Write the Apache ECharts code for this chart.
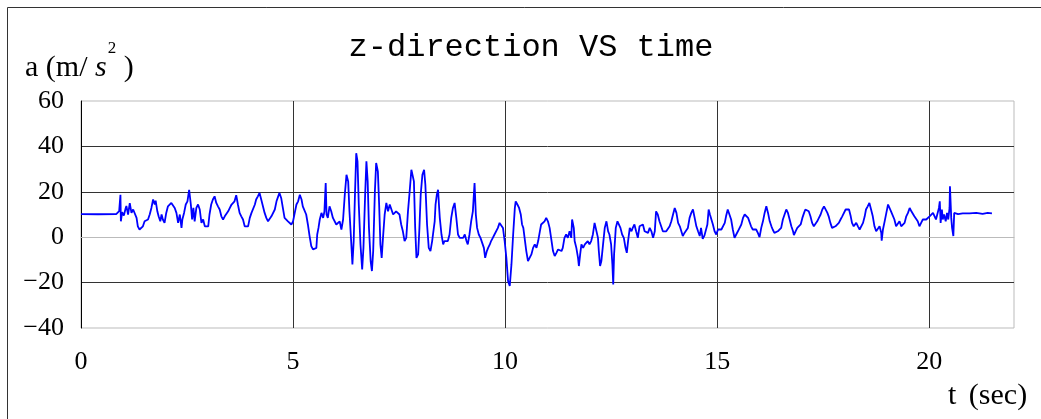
<!DOCTYPE html>
<html>
<head>
<meta charset="utf-8">
<style>
  html, body { margin: 0; padding: 0; background: #fff; }
  #chart { width: 1041px; height: 419px; }
</style>
<script src="https://cdn.jsdelivr.net/npm/echarts@6/dist/echarts.min.js"></script>
</head>
<body>
<div id="chart"></div>
<script>
// Vertical (z) acceleration record, [time s, acceleration m/s^2]
const segQuietStart = [
  [0, 10.2], [0.40, 10.1], [0.83, 10.2], [0.86, 9.5], [0.90, 11.5], [0.93, 18.7], [0.94, 7.0],
  [0.97, 11.0], [1.01, 9.5], [1.05, 12.5], [1.07, 13.8], [1.11, 10.0], [1.15, 15.0], [1.19, 10.7],
  [1.23, 12.2], [1.27, 12.2], [1.31, 8.5], [1.34, 4.8], [1.38, 3.4], [1.42, 2.6], [1.46, 4.8],
  [1.50, 7.0], [1.54, 7.3], [1.58, 7.8], [1.62, 10.0], [1.66, 12.9], [1.70, 16.6], [1.74, 14.4],
  [1.76, 16.1], [1.80, 11.4], [1.83, 9.2], [1.87, 7.0], [1.90, 10.0], [1.93, 7.8], [1.97, 6.3],
  [2.01, 10.7], [2.05, 13.6], [2.09, 12.9], [2.13, 15.1], [2.17, 14.4], [2.21, 12.9], [2.25, 10.7],
  [2.29, 6.3], [2.33, 10.0], [2.37, 4.1], [2.39, 7.8], [2.43, 10.7], [2.47, 14.4], [2.51, 15.8],
  [2.55, 20.9], [2.59, 14.4], [2.62, 7.8], [2.65, 12.9], [2.68, 7.0], [2.72, 12.9], [2.76, 14.4],
  [2.80, 12.2], [2.84, 6.3], [2.88, 7.8], [2.92, 4.8], [2.96, 4.1], [3.00, 4.8], [3.03, 10.0],
  [3.07, 14.4], [3.11, 16.6], [3.15, 18.0], [3.19, 15.1], [3.23, 13.6], [3.27, 12.2], [3.31, 9.2],
  [3.35, 7.8], [3.39, 9.2], [3.43, 10.0], [3.47, 11.4], [3.51, 12.9], [3.55, 14.4], [3.58, 15.1],
  [3.62, 15.8]
];

const segStrongMotion = [
  [3.66, 18.5], [3.70, 14.4], [3.74, 10.7], [3.78, 9.2], [3.82, 7.8], [3.86, 4.8], [3.90, 4.1],
  [3.94, 4.8], [3.98, 8.5], [4.02, 10.7], [4.06, 10.0], [4.10, 14.4], [4.13, 16.6], [4.17, 18.0],
  [4.21, 19.5], [4.25, 16.6], [4.29, 13.6], [4.33, 10.7], [4.37, 8.5], [4.41, 7.0], [4.45, 7.8],
  [4.49, 9.2], [4.53, 10.0], [4.57, 12.2], [4.61, 15.8], [4.65, 18.0], [4.68, 19.5], [4.72, 17.3],
  [4.76, 12.9], [4.80, 8.5], [4.84, 7.8], [4.88, 7.0], [4.92, 6.3], [4.96, 5.6], [5.00, 7.0],
  [5.04, 10.7], [5.08, 14.4], [5.12, 15.8], [5.16, 18.7], [5.20, 16.6], [5.23, 13.6], [5.27, 14.4],
  [5.31, 10.0], [5.35, 5.6], [5.39, 0.5], [5.43, -3.9], [5.47, -5.4], [5.51, -5.4], [5.55, -4.7],
  [5.57, 1.2], [5.60, 4.1], [5.63, 7.8], [5.67, 10.7], [5.71, 8.5], [5.74, 11.4], [5.77, 23.9],
  [5.79, 10.0], [5.82, 8.5], [5.86, 13.6], [5.90, 11.4], [5.94, 8.5], [5.98, 7.8], [6.02, 5.6],
  [6.06, 4.8], [6.10, 7.0], [6.14, 3.4], [6.18, 7.8], [6.22, 18.7], [6.26, 27.5], [6.30, 24.6],
  [6.33, 11.4], [6.37, -1.7], [6.40, -12.0], [6.43, -1.7], [6.46, 18.7], [6.49, 37.0], [6.52, 33.4],
  [6.55, 14.4], [6.59, -3.2], [6.63, -14.2], [6.66, -4.7], [6.70, 18.7], [6.73, 33.4], [6.76, 24.6],
  [6.79, 4.1], [6.83, -10.5], [6.86, -14.9], [6.89, -6.1], [6.93, 20.2], [6.96, 32.7], [7.00, 29.0],
  [7.03, 14.4], [7.06, -3.2], [7.09, -9.1], [7.12, -0.5], [7.16, 9.9], [7.20, 15.1], [7.24, 11.4],
  [7.28, 14.4]
];

const segDecay = [
  [7.32, 12.2], [7.36, 10.0], [7.40, 10.7], [7.43, 11.4], [7.47, 12.2], [7.51, 10.0], [7.55, 5.6],
  [7.59, 2.6], [7.63, -1.7], [7.67, -0.3], [7.71, 11.4], [7.75, 20.2], [7.79, 29.7], [7.82, 30.5],
  [7.85, 24.6], [7.88, 4.1], [7.91, -9.1], [7.95, -7.6], [7.98, 4.1], [8.01, 18.7], [8.05, 27.5],
  [8.09, 29.7], [8.12, 23.1], [8.16, 5.6], [8.20, -4.7], [8.24, -6.1], [8.28, -1.7], [8.32, 4.1],
  [8.34, 7.0], [8.36, 14.4], [8.39, 18.7], [8.42, 20.9], [8.44, 14.4], [8.46, 8.5], [8.50, 1.2],
  [8.54, -3.2], [8.57, -1.7], [8.61, -1.0], [8.65, -1.7], [8.69, 1.2], [8.73, 8.5], [8.77, 12.9],
  [8.81, 15.1], [8.85, 8.5], [8.89, 1.2], [8.93, -0.3], [8.97, 0.5], [9.01, -0.3], [9.05, 1.2],
  [9.09, -1.7], [9.12, -3.2], [9.16, 1.2], [9.20, 7.0], [9.24, 11.4], [9.28, 23.9], [9.31, 10.0],
  [9.34, 4.1], [9.38, 1.2], [9.42, -0.3], [9.46, 0.5], [9.50, -4.7], [9.53, -9.1], [9.57, -6.1],
  [9.60, -4.7], [9.64, -3.2], [9.67, -1.7], [9.71, -0.3], [9.75, 1.2], [9.79, 0.5], [9.83, 4.1],
  [9.87, 6.3], [9.91, 7.0], [9.95, 4.1], [9.99, -1.7], [10.03, -9.1], [10.07, -19.3], [10.11, -21.5],
  [10.15, -12.0], [10.19, 1.2], [10.23, 12.9], [10.25, 15.8], [10.29, 14.4], [10.33, 12.9],
  [10.37, 10.0], [10.40, 5.6], [10.43, 4.1], [10.46, -0.3], [10.50, -6.1], [10.54, -10.5],
  [10.58, -11.3], [10.62, -7.6], [10.66, -4.7], [10.70, -3.2], [10.74, -4.7], [10.78, -1.7],
  [10.82, 2.6], [10.85, 5.6], [10.89, 4.8], [10.93, 7.0]
];

const segLowFreq = [
  [10.97, 8.5], [11.01, 7.0], [11.05, 4.1], [11.09, -1.0], [11.13, -6.1], [11.17, -8.3], [11.21, -6.9],
  [11.25, -5.4], [11.29, -4.7], [11.33, -6.1], [11.36, -4.7], [11.40, -0.3], [11.44, 1.2], [11.48, -0.3],
  [11.52, 2.6], [11.56, -0.3], [11.58, 7.8], [11.62, 4.1], [11.64, -1.7], [11.68, -4.7], [11.72, -9.1],
  [11.74, -12.7], [11.77, -7.6], [11.80, -3.2], [11.84, -4.7], [11.88, -3.2], [11.91, -2.5],
  [11.95, -1.7], [11.99, -3.2], [12.03, -1.7], [12.07, 1.2], [12.11, 6.3], [12.15, 5.6], [12.19, -0.3],
  [12.21, -6.1], [12.24, -12.7], [12.27, -10.5], [12.31, -3.2], [12.35, 4.1], [12.39, 7.0],
  [12.43, 2.6], [12.46, 1.2], [12.50, -3.2], [12.53, -12.0], [12.55, -20.8], [12.57, -7.6],
  [12.61, 4.1], [12.65, 7.0], [12.68, 7.8], [12.72, 4.1], [12.76, 1.2], [12.80, -0.3], [12.84, -4.7],
  [12.87, -6.9], [12.90, -1.7], [12.94, 4.1], [12.98, 2.6], [13.01, 4.1], [13.05, 5.6], [13.09, 2.6],
  [13.13, -0.3], [13.17, 4.8], [13.21, 4.1], [13.25, 5.6], [13.29, 2.6], [13.33, 2.6], [13.37, 1.9],
  [13.41, 4.1], [13.45, 2.6], [13.49, -0.3], [13.53, 2.6], [13.56, 11.4], [13.60, 10.0], [13.64, 7.0],
  [13.68, 4.8], [13.72, 2.6], [13.76, 2.6], [13.80, 2.6], [13.84, 1.9], [13.88, 4.8], [13.92, 7.0],
  [13.96, 10.0], [14.00, 12.9], [14.04, 10.7], [14.08, 6.3], [14.12, 4.8], [14.15, 4.1], [14.19, 0.5],
  [14.23, 1.9], [14.27, 2.6], [14.31, 4.1], [14.35, 8.5], [14.39, 10.7], [14.43, 12.2], [14.47, 8.5],
  [14.51, 4.8], [14.55, 2.6], [14.59, 0.5]
];

const segSway = [
  [14.62, 4.1], [14.66, -0.7], [14.70, 0.7], [14.74, 0.0], [14.77, 5.6], [14.80, 12.2], [14.83, 10.0],
  [14.86, 10.7], [14.90, 5.6], [14.94, 2.6], [14.98, 1.2], [15.02, 3.4], [15.06, 4.1], [15.10, 3.4],
  [15.14, 4.1], [15.18, 6.3], [15.21, 9.2], [15.25, 12.2], [15.29, 12.9], [15.33, 7.8], [15.37, 3.4],
  [15.41, -0.3], [15.45, 1.2], [15.49, 2.6], [15.53, 3.4], [15.57, 5.6], [15.61, 8.5], [15.65, 10.0],
  [15.69, 10.0], [15.73, 8.5], [15.76, 7.8], [15.80, 4.8], [15.84, 3.4], [15.88, 2.6], [15.92, 3.4],
  [15.96, 1.9], [16.00, 0.0], [16.04, 4.1], [16.08, 7.0], [16.12, 10.7], [16.16, 13.6], [16.20, 10.7],
  [16.24, 7.0], [16.28, 4.8], [16.31, 3.4], [16.35, 1.9], [16.39, 2.6], [16.43, 2.6], [16.47, 3.4],
  [16.51, 4.1], [16.55, 7.8], [16.59, 10.0], [16.63, 12.2], [16.67, 10.7], [16.71, 7.8], [16.75, 4.8],
  [16.79, 2.6], [16.81, 0.9], [16.85, 2.6], [16.89, 4.1], [16.93, 4.8], [16.97, 5.6], [17.01, 8.5],
  [17.05, 10.7], [17.08, 12.2], [17.12, 11.4], [17.16, 11.4], [17.20, 9.2], [17.24, 6.3], [17.28, 4.8],
  [17.32, 4.8], [17.36, 7.0], [17.40, 8.5], [17.44, 10.0], [17.48, 12.2], [17.52, 13.6], [17.56, 12.9],
  [17.60, 10.7], [17.63, 9.2], [17.67, 6.3], [17.71, 4.1], [17.75, 4.1], [17.79, 4.8], [17.83, 4.8],
  [17.87, 6.3], [17.91, 7.8], [17.95, 9.2], [17.99, 10.0], [18.03, 12.2], [18.07, 12.9], [18.11, 12.2],
  [18.15, 9.2], [18.18, 6.3], [18.22, 4.8]
];

const segTail = [
  [18.28, 6.3], [18.32, 4.8], [18.36, 3.4], [18.40, 4.1], [18.44, 6.3], [18.48, 9.2], [18.51, 12.2],
  [18.55, 13.6], [18.59, 15.1], [18.63, 12.2], [18.67, 9.2], [18.71, 4.8], [18.75, 2.6], [18.79, 3.4],
  [18.83, 4.8], [18.87, 1.9], [18.88, -1.5], [18.91, 3.4], [18.95, 7.0], [18.99, 10.7], [19.03, 14.4],
  [19.06, 13.6], [19.10, 11.4], [19.14, 10.7], [19.18, 7.8], [19.22, 4.8], [19.26, 4.1], [19.30, 7.0],
  [19.34, 4.8], [19.38, 5.6], [19.42, 6.3], [19.46, 9.2], [19.50, 10.7], [19.54, 12.9], [19.58, 11.4],
  [19.61, 10.7], [19.65, 9.2], [19.69, 8.5], [19.73, 7.0], [19.77, 4.8], [19.81, 6.3], [19.85, 7.8],
  [19.89, 8.5], [19.93, 7.8], [19.97, 8.5], [20.01, 9.2], [20.05, 10.0], [20.09, 10.7], [20.13, 10.0],
  [20.16, 7.8], [20.20, 7.8], [20.23, 12.9], [20.25, 15.8], [20.27, 6.3], [20.30, 12.2], [20.32, 7.8],
  [20.35, 10.0], [20.39, 7.0], [20.42, 10.7], [20.45, 7.8], [20.48, 12.9], [20.49, 22.4], [20.52, 8.5],
  [20.54, 4.1], [20.57, 0.5], [20.59, 10.7], [20.62, 10.7], [20.68, 10.2], [20.79, 10.5], [20.95, 10.5],
  [21.11, 10.7], [21.26, 10.3], [21.38, 10.7], [21.48, 10.5]
];

// Axis ticks
const xTicks = [0, 5, 10, 15, 20];
const xMax = 22;
const yTicks = [-40, -20, 0, 20, 40, 60];

const record = [].concat(segQuietStart, segStrongMotion, segDecay, segLowFreq, segSway, segTail);

const serif = '"Liberation Serif", "Times New Roman", serif';
const chart = echarts.init(document.getElementById('chart'), null, { renderer: 'canvas' });

chart.setOption({
  animation: false,
  backgroundColor: '#fff',
  title: {
    text: 'z-direction VS time',
    left: 526,
    top: 27,
    textAlign: 'center',
    textStyle: { fontFamily: '"Liberation Mono", monospace', fontSize: 32, fontWeight: 'normal', color: '#000' }
  },
  grid: {
    left: 81, right: 27, top: 101, bottom: 91,
    show: true, borderColor: '#bbb', borderWidth: 1, backgroundColor: 'transparent'
  },
  xAxis: {
    type: 'value',
    min: xTicks[0],
    max: xMax,
    interval: xTicks[1] - xTicks[0],
    axisLine: { show: true, lineStyle: { color: '#bbb', width: 1 } },
    axisTick: { show: false },
    axisLabel: {
      show: true,
      margin: 21,
      color: '#000',
      fontFamily: serif,
      fontSize: 26,
      showMaxLabel: false,
      formatter: v => (xTicks.includes(v) ? String(v) : '')
    },
    splitLine: { show: true, showMinLine: false, showMaxLine: false, lineStyle: { color: '#333', width: 1 } }
  },
  yAxis: {
    type: 'value',
    min: yTicks[0],
    max: yTicks[yTicks.length - 1],
    interval: yTicks[1] - yTicks[0],
    axisLine: { show: true, onZero: false, lineStyle: { color: '#000', width: 1 } },
    axisTick: { show: false },
    axisLabel: {
      margin: 17,
      color: '#000',
      fontFamily: serif,
      fontSize: 26,
      formatter: v => String(v).replace('-', '\u2212')
    },
    splitLine: { show: true, showMinLine: false, showMaxLine: false, lineStyle: { color: '#333', width: 1 } }
  },
  graphic: [
    {
      type: 'rect',
      silent: true,
      shape: { x: 7.5, y: 7.5, width: 1200, height: 600 },
      style: { fill: 'none', stroke: '#333', lineWidth: 1 }
    },
    {
      // y-axis title with italic s and superscript 2
      type: 'text',
      x: 25,
      y: 40,
      style: {
        text: '{n|a (m/ }{i|s}{p|2}{n| )}',
        rich: {
          n: { fontFamily: serif, fontSize: 30, lineHeight: 43, fill: '#000', verticalAlign: 'bottom' },
          i: { fontFamily: serif, fontSize: 30, lineHeight: 43, fontStyle: 'italic', fill: '#000', verticalAlign: 'bottom' },
          p: { fontFamily: serif, fontSize: 17, lineHeight: 17, fill: '#000', verticalAlign: 'top', padding: [0, 0, 0, 1] }
        }
      }
    },
    {
      // x-axis title
      type: 'text',
      x: 948,
      y: 396,
      style: {
        text: '{a|t }{b|(sec)}',
        verticalAlign: 'middle',
        rich: {
          a: { fontFamily: serif, fontSize: 30, fill: '#000' },
          b: { fontFamily: serif, fontSize: 30, fill: '#000', padding: [0, 0, 0, 5] }
        }
      }
    }
  ],
  series: [{
    type: 'line',
    data: record,
    showSymbol: false,
    symbol: 'none',
    sampling: 'none',
    lineStyle: { color: '#0000ff', width: 1.8 },
    z: 3
  }]
});
</script>
</body>
</html>
